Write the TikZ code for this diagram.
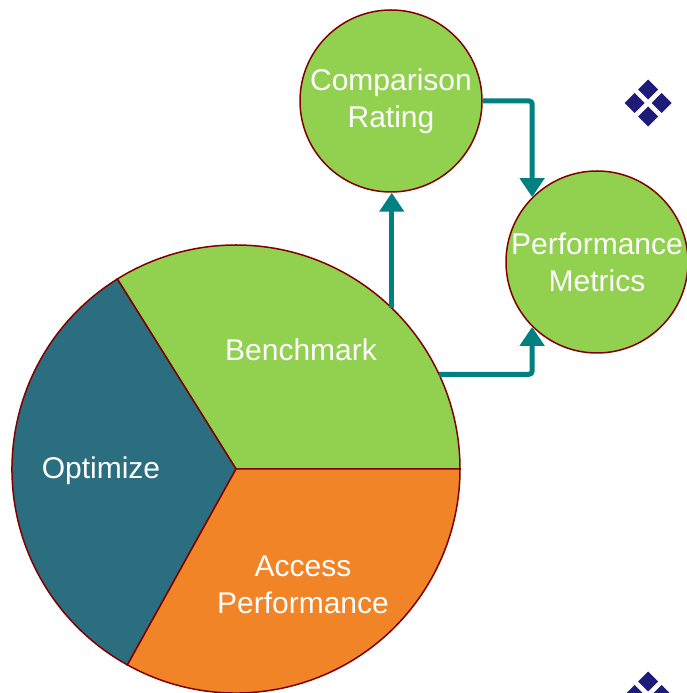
\documentclass[tikz,border=0pt]{standalone}
\usepackage{fontspec}
\setmainfont{Liberation Sans}
\usetikzlibrary{arrows.meta,positioning}

\definecolor{leaf}{HTML}{92D050}
\definecolor{ocean}{HTML}{2B6E7F}
\definecolor{amber}{HTML}{F08426}
\definecolor{rim}{HTML}{800000}
\definecolor{flowteal}{HTML}{008080}
\definecolor{navy}{RGB}{30,28,120}

\begin{document}
\begin{tikzpicture}[x=1pt,y=1pt,
    slice/.style={draw=rim,line width=1.5pt},
    word/.style={text=white,align=center,font=\fontsize{30}{37}\selectfont},
    bubble/.style={circle,draw=rim,line width=1.5pt,fill=leaf,minimum size=182pt,inner sep=0pt,word},
    flow/.style={draw=flowteal,line width=5pt,rounded corners=3pt,-{Triangle[width=24pt,length=19pt]}},
    gem/.style={fill=navy}]
  \clip (0,0) rectangle (687,693);

  % the pie
  \coordinate (o) at (236,224);
  \filldraw[slice,fill=leaf]  (o) -- ++(0:224)   arc[start angle=0,end angle=122,radius=224] -- cycle;
  \filldraw[slice,fill=ocean] (o) -- ++(122:224) arc[start angle=122,end angle=241,radius=224] -- cycle;
  \filldraw[slice,fill=amber] (o) -- ++(241:224) arc[start angle=241,end angle=360,radius=224] -- cycle;
  \node[circle,minimum size=448pt,inner sep=0pt] (pie) at (o) {};

  \node[word] (bench) at (301,343) {Benchmark};
  \node[word] (optim) at (101,222) {Optimize};
  \node[word] (access) at (303,108) {Access\\Performance};

  % the two bubbles
  \node[bubble] (cmp) at (391,592) {Comparison\\Rating};
  \node[bubble] (met) at (597,431) {Performance\\Metrics};

  \draw[flow] (pie.46) -- (pie.46 |- cmp.south);
  \draw[flow] (cmp.east) -| (met.135);
  \draw[flow] (pie.25) -| (met.225);

  % bullets
  \foreach \c in {(648,590),(648,-2)}
    \foreach \a in {0,90,180,270}
      \fill[gem] \c ++(\a:13.5) +(10,0) -- +(0,10) -- +(-10,0) -- +(0,-10) -- cycle;
\end{tikzpicture}
\end{document}
